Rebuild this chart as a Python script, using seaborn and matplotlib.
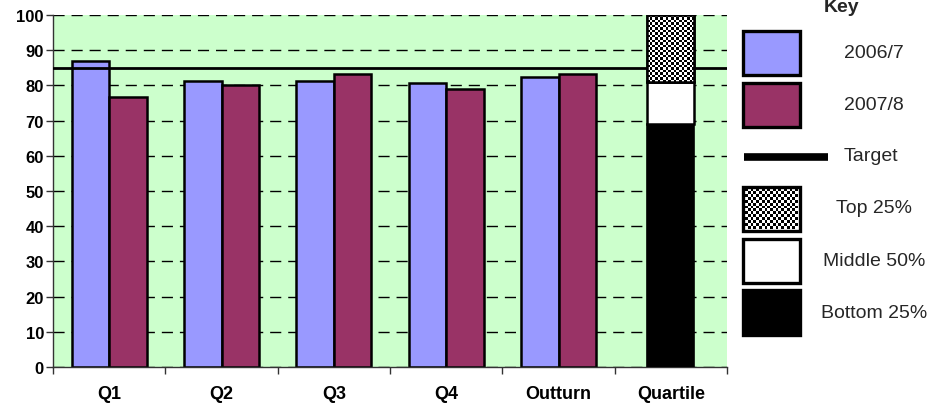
import numpy as np
import pandas as pd
import matplotlib
matplotlib.use("Agg")
import matplotlib.pyplot as plt
from matplotlib.patches import Rectangle
from matplotlib.lines import Line2D
import seaborn as sns

# ---- data ----
periods = ["Q1", "Q2", "Q3", "Q4", "Outturn"]
years = ["2006/7", "2007/8"]
values_0607 = [86.8, 81.2, 81.2, 80.7, 82.4]
values_0708 = [76.7, 80.1, 83.3, 79.0, 83.2]
target = 85
quartile_label = "Quartile"
quartile_bounds = [69.0, 81.0, 100.0]   # bottom 25% / middle 50% / top 25% upper edges
key_labels = ["2006/7", "2007/8", "Target", "Top 25%", "Middle 50%", "Bottom 25%"]
yticks = list(range(0, 101, 10))

colors = {"2006/7": "#9999FF", "2007/8": "#993366"}
bg = "#CCFFCC"

df = pd.DataFrame({
    "period": periods * 2,
    "year": [years[0]] * len(periods) + [years[1]] * len(periods),
    "value": values_0607 + values_0708,
})
order = periods + [quartile_label]

sns.set_theme(style="white")
plt.rcParams["font.family"] = ["Liberation Sans", "DejaVu Sans"]

fig = plt.figure(figsize=(9.32, 4.10), dpi=100)
ax = fig.add_axes([53 / 932, 42 / 410, 674 / 932, 352 / 410])
ax.set_facecolor(bg)

sns.barplot(data=df, x="period", y="value", hue="year", order=order,
            hue_order=years, palette=colors, width=0.667, saturation=1,
            edgecolor="black", linewidth=1.8, legend=False, ax=ax, zorder=2)

# target line
ax.axhline(target, color="black", lw=2, zorder=3)

# quartile stacked column
qx = order.index(quartile_label)
qw = 0.42
lows = [0.0] + quartile_bounds[:-1]
heights = [hi - lo for lo, hi in zip(lows, quartile_bounds)]
ax.bar(qx, heights[0], bottom=lows[0], width=qw, color="black",
       edgecolor="black", lw=1.2, zorder=4)
ax.bar(qx, heights[1], bottom=lows[1], width=qw, color="white",
       edgecolor="black", lw=1.8, zorder=4)
top_bar = ax.bar(qx, heights[2], bottom=lows[2], width=qw, color="white",
                 edgecolor="black", lw=1.8, zorder=4)[0]
# checkerboard fill for the top quartile
n_r, n_c = 27, 18
checker = (np.indices((n_r, n_c)).sum(axis=0) % 2).astype(float)
img = ax.imshow(checker, cmap="gray", interpolation="nearest", aspect="auto",
                extent=(qx - qw / 2, qx + qw / 2, lows[2], quartile_bounds[2]),
                zorder=4.5)
img.set_clip_path(top_bar)
ax.bar(qx, heights[2], bottom=lows[2], width=qw, fill=False,
       edgecolor="black", lw=1.8, zorder=5)

# axes, ticks, grid
ax.set_xlim(-0.5, len(order) - 0.5)
ax.set_ylim(0, 100)
ax.set_yticks(yticks)
ax.set_yticklabels([str(t) for t in yticks], fontsize=12, fontweight="bold")
ax.set_xticks(range(len(order)))
ax.set_xticklabels(order, fontsize=13, fontweight="bold")
ax.set_xticks(np.arange(-0.5, len(order), 1.0), minor=True)
ax.tick_params(axis="x", which="major", length=0, pad=13, colors="black")
ax.tick_params(axis="x", which="minor", length=5, width=1, color="#333333",
               direction="out", bottom=True)
ax.tick_params(axis="y", length=5, width=1, color="#333333", direction="out",
               pad=1.5, left=True, colors="black")
ax.set_axisbelow(True)
ax.yaxis.grid(True, color="black", lw=1, linestyle=(0, (8, 5)), zorder=1)
ax.xaxis.grid(False)
ax.set_xlabel("")
ax.set_ylabel("")
for s in ["top", "right"]:
    ax.spines[s].set_visible(False)
for s in ["left", "bottom"]:
    ax.spines[s].set_color("#333333")
    ax.spines[s].set_linewidth(1)

# ---- key panel (figure pixel coordinates) ----
W, H = 932, 410
def fx(x):
    return x / W
def fy(y):
    return 1 - y / H

fig.text(fx(842), fy(12.5), "Key", ha="center", va="baseline", fontsize=14,
         fontweight="bold")

def key_box(y0, y1, face, lw=2.4, fill=True, z=1):
    r = Rectangle((fx(743), fy(y1)), fx(800) - fx(743), fy(y0) - fy(y1),
                  transform=fig.transFigure, facecolor=face, fill=fill,
                  edgecolor="black", lw=lw, zorder=z)
    fig.add_artist(r)
    return r

key_fs = 14
key_box(32, 76, colors["2006/7"])
fig.text(fx(874), fy(53), key_labels[0], ha="center", va="center", fontsize=key_fs)
key_box(84, 128, colors["2007/8"])
fig.text(fx(874), fy(106), key_labels[1], ha="center", va="center", fontsize=key_fs)

fig.add_artist(Line2D([fx(744), fx(828)], [fy(157.5), fy(157.5)],
                      transform=fig.transFigure, color="black", lw=5.5,
                      solid_capstyle="butt"))
fig.text(fx(871), fy(157), key_labels[2], ha="center", va="center", fontsize=key_fs)

kax = fig.add_axes([fx(745), fy(230), fx(798) - fx(745), fy(190) - fy(230)])
kax.imshow((np.indices((14, 19)).sum(axis=0) % 2).astype(float), cmap="gray",
           interpolation="nearest", aspect="auto")
kax.set_axis_off()
kax.set_zorder(2)
key_box(188, 232, "white", fill=False, z=3)
fig.text(fx(874), fy(209), key_labels[3], ha="center", va="center", fontsize=key_fs)

key_box(240, 284, "white")
fig.text(fx(874), fy(262), key_labels[4], ha="center", va="center", fontsize=key_fs)
key_box(291, 336, "black")
fig.text(fx(874), fy(314), key_labels[5], ha="center", va="center", fontsize=key_fs)

fig.savefig("out.png", dpi=100, facecolor="white")
